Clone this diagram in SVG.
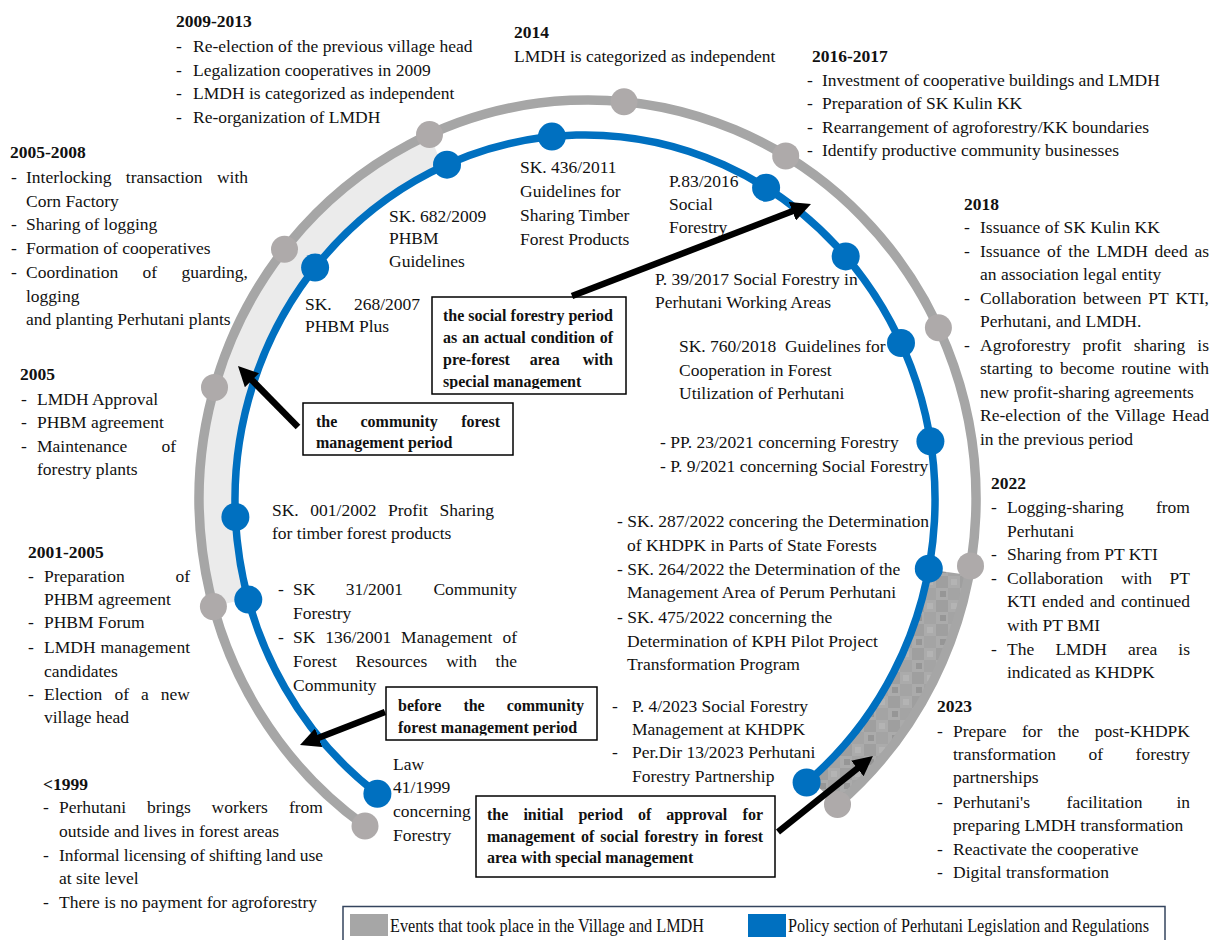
<svg xmlns="http://www.w3.org/2000/svg" width="1221" height="940" viewBox="0 0 1221 940">
<defs>
<style>
text{font-family:"Liberation Serif","Times New Roman",serif;fill:#111;}
.t{font-size:17.5px;}
.yr{font-size:17.5px;font-weight:bold;}
.bx{font-size:16px;font-weight:bold;}
.box{fill:#fff;stroke:#000;stroke-width:1.5;}
.ev{fill:#aeaaaa;}
.po{fill:#0070c0;}
.arc-ev{fill:none;stroke:#a6a6a6;stroke-width:9.5;}
.arc-po{fill:none;stroke:#0070c0;stroke-width:7.5;}
.arrow{stroke:#000;stroke-width:6.5;fill:none;marker-end:url(#head);}
.lg{font-size:18px;}
</style>
<marker id="head" viewBox="0 0 20 20" refX="2" refY="10" markerWidth="20" markerHeight="20" markerUnits="userSpaceOnUse" orient="auto">
<path d="M0,0 L20,10 L0,20 Z" fill="#000"/>
</marker>
<pattern id="mosaic" width="24" height="24" patternUnits="userSpaceOnUse">
<rect width="24" height="24" fill="#ababab"/>
<rect width="12" height="12" fill="#9f9f9f"/>
<rect x="12" y="12" width="12" height="12" fill="#a4a4a4"/>
<rect x="4" y="15" width="6" height="6" fill="#969696"/>
<rect x="15" y="3" width="6" height="6" fill="#b4b4b4"/>
</pattern>
<clipPath id="clip-social"><rect x="432" y="297" width="194" height="92"/></clipPath>
<clipPath id="clip-before"><rect x="386" y="687" width="211" height="48.5"/></clipPath>
<clipPath id="clip-2017"><rect x="640" y="265" width="240" height="45.5"/></clipPath>
</defs>

<!-- shaded periods between the two tracks -->
<g id="bands">
<path d="M213.4 606.6 A388.5 399 0 0 1 429.5 134.5 L442.7 166.6 A350 365 0 0 0 247.9 598.4 Z" fill="#ebebeb"/>
<path d="M968.9 575.1 A388.5 399 0 0 1 837.2 804.6 L810 779.6 A350 365 0 0 0 928.6 569.6 Z" fill="url(#mosaic)"/>
</g>

<!-- village / LMDH events -->
<g id="ev-2009-2013">
<text class="yr" x="176" y="27">2009-2013</text>
<text class="t"><tspan x="176" y="52">-</tspan><tspan x="193">Re-election of the previous village head</tspan><tspan x="176" y="76">-</tspan><tspan x="193">Legalization cooperatives in 2009</tspan><tspan x="176" y="99">-</tspan><tspan x="193">LMDH is categorized as independent</tspan><tspan x="176" y="123">-</tspan><tspan x="193">Re-organization of LMDH</tspan></text>
</g>
<g id="ev-2014">
<text class="yr" x="514" y="38">2014</text>
<text class="t" x="514" y="62">LMDH is categorized as independent</text>
</g>
<g id="ev-2016-2017">
<text class="yr" x="812" y="62">2016-2017</text>
<text class="t"><tspan x="807" y="86">-</tspan><tspan x="822">Investment of cooperative buildings and LMDH</tspan><tspan x="807" y="109">-</tspan><tspan x="822">Preparation of SK Kulin KK</tspan><tspan x="807" y="133">-</tspan><tspan x="822">Rearrangement of agroforestry/KK boundaries</tspan><tspan x="807" y="156">-</tspan><tspan x="822">Identify productive community businesses</tspan></text>
</g>
<g id="ev-2018">
<text class="yr" x="964" y="210">2018</text>
<text class="t"><tspan x="964" y="233">-</tspan><tspan x="980">Issuance of SK Kulin KK</tspan></text>
<text class="t"><tspan x="964" y="256.5">-</tspan><tspan x="980">Issuance</tspan><tspan x="1047">of</tspan><tspan x="1068.3">the</tspan><tspan x="1096.4">LMDH</tspan><tspan x="1154.6">deed</tspan><tspan x="1209" text-anchor="end">as</tspan></text>
<text class="t" x="980" y="280">an association legal entity</text>
<text class="t"><tspan x="964" y="303.5">-</tspan><tspan x="980">Collaboration</tspan><tspan x="1083.1">between</tspan><tspan x="1148.2">PT</tspan><tspan x="1209" text-anchor="end">KTI,</tspan></text>
<text class="t" x="980" y="327">Perhutani, and LMDH.</text>
<text class="t"><tspan x="964" y="350.5">-</tspan><tspan x="980">Agroforestry</tspan><tspan x="1082.6">profit</tspan><tspan x="1133.7">sharing</tspan><tspan x="1209" text-anchor="end">is</tspan></text>
<text class="t" y="374"><tspan x="980">starting</tspan><tspan x="1039.5">to</tspan><tspan x="1060">become</tspan><tspan x="1121.4">routine</tspan><tspan x="1209" text-anchor="end">with</tspan></text>
<text class="t" x="980" y="397.5">new profit-sharing agreements</text>
<text class="t" y="421"><tspan x="980">Re-election</tspan><tspan x="1066.7">of</tspan><tspan x="1087.3">the</tspan><tspan x="1114.7">Village</tspan><tspan x="1209" text-anchor="end">Head</tspan></text>
<text class="t" x="980" y="444.5">in the previous period</text>
</g>
<g id="ev-2005-2008">
<text class="yr" x="10" y="158">2005-2008</text>
<text class="t" y="183"><tspan x="11">-</tspan><tspan x="26">Interlocking</tspan><tspan x="125.8">transaction</tspan><tspan x="248" text-anchor="end">with</tspan></text>
<text class="t" x="26" y="207">Corn Factory</text>
<text class="t"><tspan x="11" y="230">-</tspan><tspan x="26">Sharing of logging</tspan><tspan x="11" y="254">-</tspan><tspan x="26">Formation of cooperatives</tspan></text>
<text class="t" y="278"><tspan x="11">-</tspan><tspan x="26">Coordination</tspan><tspan x="142.6">of</tspan><tspan x="248" text-anchor="end">guarding,</tspan></text>
<text class="t"><tspan x="26" y="302">logging</tspan><tspan x="26" y="325">and planting Perhutani plants</tspan></text>
</g>
<g id="ev-2005">
<text class="yr" x="20" y="380">2005</text>
<text class="t"><tspan x="21" y="405">-</tspan><tspan x="37">LMDH Approval</tspan><tspan x="21" y="428">-</tspan><tspan x="37">PHBM agreement</tspan><tspan x="21" y="452">-</tspan><tspan x="37">Maintenance</tspan><tspan x="176" text-anchor="end">of</tspan><tspan x="37" y="475">forestry plants</tspan></text>
</g>
<g id="ev-2001-2005">
<text class="yr" x="28" y="558">2001-2005</text>
<text class="t"><tspan x="28" y="582">-</tspan><tspan x="44">Preparation</tspan><tspan x="190" text-anchor="end">of</tspan><tspan x="44" y="605">PHBM agreement</tspan><tspan x="28" y="628">-</tspan><tspan x="44">PHBM Forum</tspan><tspan x="28" y="653">-</tspan><tspan x="44">LMDH</tspan><tspan x="190" text-anchor="end">management</tspan><tspan x="44" y="677">candidates</tspan></text>
<text class="t" y="700"><tspan x="28">-</tspan><tspan x="44">Election</tspan><tspan x="114.5">of</tspan><tspan x="141">a</tspan><tspan x="190" text-anchor="end">new</tspan></text>
<text class="t" x="44" y="723">village head</text>
</g>
<g id="ev-1999">
<text class="yr" x="43" y="790">&lt;1999</text>
<text class="t" y="813"><tspan x="43">-</tspan><tspan x="59">Perhutani</tspan><tspan x="147">brings</tspan><tspan x="211.5">workers</tspan><tspan x="323" text-anchor="end">from</tspan></text>
<text class="t" x="59" y="837">outside and lives in forest areas</text>
<text class="t" x="43" y="861">-</text>
<text class="t" x="59" y="861" textLength="264" lengthAdjust="spacing">Informal licensing of shifting land use</text>
<text class="t"><tspan x="59" y="884">at site level</tspan><tspan x="43" y="908">-</tspan><tspan x="59">There is no payment for agroforestry</tspan></text>
</g>
<g id="ev-2022">
<text class="yr" x="991" y="489">2022</text>
<text class="t" y="513"><tspan x="991">-</tspan><tspan x="1007">Logging-sharing</tspan><tspan x="1190" text-anchor="end">from</tspan></text>
<text class="t"><tspan x="1007" y="537">Perhutani</tspan><tspan x="991" y="560">-</tspan><tspan x="1007">Sharing from PT KTI</tspan></text>
<text class="t" y="584"><tspan x="991">-</tspan><tspan x="1007">Collaboration</tspan><tspan x="1120.9">with</tspan><tspan x="1190" text-anchor="end">PT</tspan></text>
<text class="t" y="607"><tspan x="1007">KTI</tspan><tspan x="1042.1">ended</tspan><tspan x="1089.8">and</tspan><tspan x="1190" text-anchor="end">continued</tspan></text>
<text class="t" x="1007" y="631">with PT BMI</text>
<text class="t" y="655"><tspan x="991">-</tspan><tspan x="1007">The</tspan><tspan x="1055.4">LMDH</tspan><tspan x="1128.1">area</tspan><tspan x="1190" text-anchor="end">is</tspan></text>
<text class="t" x="1007" y="678">indicated as KHDPK</text>
</g>
<g id="ev-2023">
<text class="yr" x="937" y="712">2023</text>
<text class="t" y="737"><tspan x="937">-</tspan><tspan x="953">Prepare</tspan><tspan x="1021.9">for</tspan><tspan x="1057.8">the</tspan><tspan x="1190" text-anchor="end">post-KHDPK</tspan></text>
<text class="t" y="760"><tspan x="953">transformation</tspan><tspan x="1088.5">of</tspan><tspan x="1190" text-anchor="end">forestry</tspan></text>
<text class="t" x="953" y="783">partnerships</text>
<text class="t" y="808"><tspan x="937">-</tspan><tspan x="953">Perhutani's</tspan><tspan x="1066.6">facilitation</tspan><tspan x="1190" text-anchor="end">in</tspan></text>
<text class="t"><tspan x="953" y="831">preparing LMDH transformation</tspan><tspan x="937" y="855">-</tspan><tspan x="953">Reactivate the cooperative</tspan><tspan x="937" y="878">-</tspan><tspan x="953">Digital transformation</tspan></text>
</g>

<!-- Perhutani policy and regulation labels -->
<g id="po-1999">
<text class="t"><tspan x="393" y="770">Law</tspan><tspan x="393" y="793">41/1999</tspan><tspan x="393" y="817">concerning</tspan><tspan x="393" y="841">Forestry</tspan></text>
</g>
<g id="po-2001">
<text class="t" y="595"><tspan x="278">-</tspan><tspan x="293">SK</tspan><tspan x="345.7">31/2001</tspan><tspan x="517" text-anchor="end">Community</tspan></text>
<text class="t" x="293" y="619">Forestry</text>
<text class="t" y="643"><tspan x="278">-</tspan><tspan x="293">SK</tspan><tspan x="325.2">136/2001</tspan><tspan x="401.1">Management</tspan><tspan x="517" text-anchor="end">of</tspan></text>
<text class="t" y="667"><tspan x="293">Forest</tspan><tspan x="355.4">Resources</tspan><tspan x="445.9">with</tspan><tspan x="517" text-anchor="end">the</tspan></text>
<text class="t" x="293" y="691">Community</text>
</g>
<g id="po-2002">
<text class="t" y="516"><tspan x="272">SK.</tspan><tspan x="310.3">001/2002</tspan><tspan x="388">Profit</tspan><tspan x="494" text-anchor="end">Sharing</tspan></text>
<text class="t" x="272" y="539">for timber forest products</text>
</g>
<g id="po-2007">
<text class="t" y="310"><tspan x="305">SK.</tspan><tspan x="420" text-anchor="end">268/2007</tspan></text>
<text class="t" x="305" y="332">PHBM Plus</text>
</g>
<g id="po-2009">
<text class="t"><tspan x="389" y="222">SK. 682/2009</tspan><tspan x="389" y="244">PHBM</tspan><tspan x="389" y="267">Guidelines</tspan></text>
</g>
<g id="po-2011">
<text class="t"><tspan x="520" y="173">SK. 436/2011</tspan><tspan x="520" y="197">Guidelines for</tspan><tspan x="520" y="221">Sharing Timber</tspan><tspan x="520" y="245">Forest Products</tspan></text>
</g>
<g id="po-2016">
<text class="t"><tspan x="669" y="187">P.83/2016</tspan><tspan x="669" y="210">Social</tspan><tspan x="669" y="233">Forestry</tspan></text>
</g>
<g id="po-2017" clip-path="url(#clip-2017)">
<text class="t"><tspan x="655" y="285">P. 39/2017 Social Forestry in</tspan><tspan x="655" y="308">Perhutani Working Areas</tspan></text>
</g>
<g id="po-2018">
<text class="t"><tspan x="679" y="352">SK. 760/2018&#160; Guidelines for</tspan><tspan x="679" y="376">Cooperation in Forest</tspan><tspan x="679" y="399">Utilization of Perhutani</tspan></text>
</g>
<g id="po-2021">
<text class="t"><tspan x="660" y="448">- PP. 23/2021 concerning Forestry</tspan><tspan x="660" y="472">- P. 9/2021 concerning Social Forestry</tspan></text>
</g>
<g id="po-2022">
<text class="t"><tspan x="617" y="527">- SK. 287/2022 concering the Determination</tspan><tspan x="627" y="551">of KHDPK in Parts of State Forests</tspan><tspan x="617" y="575">- SK. 264/2022 the Determination of the</tspan><tspan x="627" y="598">Management Area of Perum Perhutani</tspan><tspan x="617" y="623">- SK. 475/2022 concerning the</tspan><tspan x="627" y="647">Determination of KPH Pilot Project</tspan><tspan x="627" y="670">Transformation Program</tspan></text>
</g>
<g id="po-2023">
<text class="t"><tspan x="612" y="712">-</tspan><tspan x="632">P. 4/2023 Social Forestry</tspan><tspan x="632" y="735">Management at KHDPK</tspan><tspan x="612" y="758">-</tspan><tspan x="632">Per.Dir 13/2023 Perhutani</tspan><tspan x="632" y="782">Forestry Partnership</tspan></text>
</g>

<!-- the two timeline tracks with their milestones -->
<g id="timeline">
<path class="arc-ev" d="M365 826 A388.5 399 0 1 1 837.5 804.4"/>
<path class="arc-po" d="M377.4 793.8 A350 365 0 1 1 806.6 782.5"/>
<g class="ev">
<circle cx="365" cy="826" r="13.5"/>
<circle cx="213.4" cy="606.6" r="13.5"/>
<circle cx="214.5" cy="387.4" r="13.5"/>
<circle cx="284.5" cy="249.2" r="13.5"/>
<circle cx="429.5" cy="134.5" r="13.5"/>
<circle cx="624" cy="101.8" r="13.5"/>
<circle cx="785.7" cy="155.9" r="13.5"/>
<circle cx="938.4" cy="327.8" r="13.5"/>
<circle cx="970.5" cy="565.9" r="13.5"/>
<circle cx="837.5" cy="804.4" r="13.5"/>
</g>
<g class="po">
<circle cx="377.4" cy="793.8" r="14"/>
<circle cx="248.3" cy="599.6" r="14"/>
<circle cx="235.4" cy="517" r="14"/>
<circle cx="315.1" cy="267.6" r="14"/>
<circle cx="447" cy="164.7" r="14"/>
<circle cx="551.9" cy="136.6" r="14"/>
<circle cx="766.1" cy="187.7" r="14"/>
<circle cx="845.7" cy="256.4" r="14"/>
<circle cx="901" cy="343" r="14"/>
<circle cx="930.4" cy="441.3" r="14"/>
<circle cx="928.8" cy="568.7" r="14"/>
<circle cx="806.6" cy="782.5" r="14"/>
</g>
</g>

<!-- period call-outs -->
<g id="period-social">
<rect class="box" x="432" y="297" width="194" height="97"/>
<g clip-path="url(#clip-social)">
<text class="bx" x="443" y="321">the social forestry period</text>
<text class="bx" y="343"><tspan x="443">as</tspan><tspan x="462.2">an</tspan><tspan x="484">actual</tspan><tspan x="530.8">condition</tspan><tspan x="613" text-anchor="end">of</tspan></text>
<text class="bx" y="365"><tspan x="443">pre-forest</tspan><tspan x="529.8">area</tspan><tspan x="613" text-anchor="end">with</tspan></text>
<text class="bx" x="443" y="387">special management</text>
</g>
</g>
<g id="period-community">
<rect class="box" x="303" y="403" width="210" height="52"/>
<text class="bx" y="427"><tspan x="316">the</tspan><tspan x="360.5">community</tspan><tspan x="500" text-anchor="end">forest</tspan></text>
<text class="bx" x="316" y="448">management period</text>
</g>
<g id="period-before">
<rect class="box" x="386" y="687" width="211" height="53"/>
<g clip-path="url(#clip-before)">
<text class="bx" y="711"><tspan x="398">before</tspan><tspan x="463.4">the</tspan><tspan x="584" text-anchor="end">community</tspan></text>
<text class="bx" x="398" y="733">forest management period</text>
</g>
</g>
<g id="period-initial">
<rect class="box" x="476" y="796" width="299" height="81"/>
<text class="bx" y="820"><tspan x="487">the</tspan><tspan x="523.4">initial</tspan><tspan x="578.4">period</tspan><tspan x="637.9">of</tspan><tspan x="666.2">approval</tspan><tspan x="763" text-anchor="end">for</tspan></text>
<text class="bx" y="842"><tspan x="487">management</tspan><tspan x="581">of</tspan><tspan x="600.3">social</tspan><tspan x="644.5">forestry</tspan><tspan x="704.7">in</tspan><tspan x="763" text-anchor="end">forest</tspan></text>
<text class="bx" x="487" y="863">area with special management</text>
</g>

<!-- arrows from call-outs to the tracks -->
<g id="connectors">
<line class="arrow" x1="572" y1="296" x2="794.2" y2="210.5"/>
<line class="arrow" x1="298" y1="427" x2="250.6" y2="378.8"/>
<line class="arrow" x1="385" y1="712" x2="316.8" y2="738.5"/>
<line class="arrow" x1="778" y1="832" x2="858.9" y2="767.2"/>
</g>

<g id="legend">
<rect x="343" y="906.5" width="822" height="40" fill="#fff" stroke="#34445e" stroke-width="1.5"/>
<rect x="350" y="914" width="38" height="22" fill="#a6a6a6"/>
<text class="lg" x="390" y="932" textLength="314" lengthAdjust="spacingAndGlyphs">Events that took place in the Village and LMDH</text>
<rect x="748" y="914" width="38" height="23" fill="#0070c0"/>
<text class="lg" x="788" y="932" textLength="361" lengthAdjust="spacingAndGlyphs">Policy section of Perhutani Legislation and Regulations</text>
</g>
</svg>
